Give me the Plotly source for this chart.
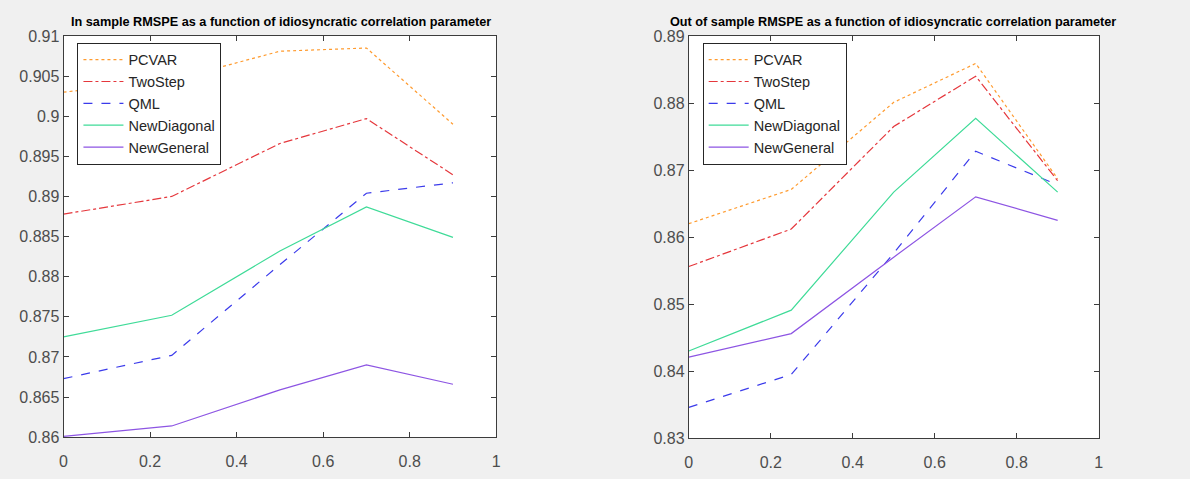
import plotly.graph_objects as go

# ---- data ----
rho = [0, 0.25, 0.5, 0.7, 0.9]

series_names = ["PCVAR", "TwoStep", "QML", "NewDiagonal", "NewGeneral"]

in_pcvar = [0.9030, 0.9045, 0.9081, 0.9085, 0.8990]
in_twostep = [0.8878, 0.8900, 0.8966, 0.8997, 0.8927]
in_qml = [0.8673, 0.8702, 0.8815, 0.8904, 0.8917]
in_newdiag = [0.8725, 0.8752, 0.8832, 0.8887, 0.8849]
in_newgen = [0.8601, 0.8614, 0.8659, 0.8690, 0.8666]

out_pcvar = [0.8620, 0.8671, 0.8801, 0.8859, 0.8687]
out_twostep = [0.8556, 0.8612, 0.8765, 0.8840, 0.8684]
out_qml = [0.8346, 0.8395, 0.8576, 0.8728, 0.8678]
out_newdiag = [0.8430, 0.8491, 0.8667, 0.8777, 0.8667]
out_newgen = [0.8421, 0.8456, 0.8570, 0.8660, 0.8625]

x_ticks = [0, 0.2, 0.4, 0.6, 0.8, 1]
x_ticktext = ["0", "0.2", "0.4", "0.6", "0.8", "1"]
left_yticks = [0.86, 0.865, 0.87, 0.875, 0.88, 0.885, 0.89, 0.895, 0.9, 0.905, 0.91]
left_yticktext = ["0.86", "0.865", "0.87", "0.875", "0.88", "0.885", "0.89", "0.895", "0.9", "0.905", "0.91"]
right_yticks = [0.83, 0.84, 0.85, 0.86, 0.87, 0.88, 0.89]
right_yticktext = ["0.83", "0.84", "0.85", "0.86", "0.87", "0.88", "0.89"]

titles = ["In sample RMSPE as a function of idiosyncratic correlation parameter",
          "Out of sample RMSPE as a function of idiosyncratic correlation parameter"]

# ---- styles ----
colors = ["#FF9B2F", "#E5373C", "#3B3BEB", "#3FDB98", "#8D55E3"]
dashes = ["dot", "dashdot", "dash", "solid", "solid"]

fig = go.Figure()

left_data = [in_pcvar, in_twostep, in_qml, in_newdiag, in_newgen]
right_data = [out_pcvar, out_twostep, out_qml, out_newdiag, out_newgen]

for name, ys, c, d in zip(series_names, left_data, colors, dashes):
    fig.add_trace(go.Scatter(x=rho, y=ys, mode="lines", name=name,
                             line=dict(color=c, dash=d, width=1.2),
                             xaxis="x", yaxis="y", legend="legend"))
for name, ys, c, d in zip(series_names, right_data, colors, dashes):
    fig.add_trace(go.Scatter(x=rho, y=ys, mode="lines", name=name,
                             line=dict(color=c, dash=d, width=1.2),
                             xaxis="x2", yaxis="y2", legend="legend2"))

W, H = 1190, 479
axis_col = "#3c3c3c"
tick_font = dict(family="Liberation Sans, Arial, sans-serif", size=16, color="#4d4d4d")

def px_x(p):
    return p / W

def px_y(p):
    return 1 - p / H

common_axis = dict(showline=True, linecolor=axis_col, linewidth=1, mirror="ticks",
                   ticks="inside", ticklen=5, tickcolor=axis_col, showgrid=False,
                   zeroline=False, tickfont=tick_font)

legend_common = dict(bgcolor="white", bordercolor="#262626", borderwidth=1,
                     font=dict(family="Liberation Sans, Arial, sans-serif", size=14.5, color="#262626"),
                     xanchor="left", yanchor="top", itemwidth=40, tracegroupgap=0)

fig.update_layout(
    width=W, height=H,
    margin=dict(l=0, r=0, t=0, b=0),
    paper_bgcolor="#f0f0f0",
    plot_bgcolor="white",
    showlegend=True,
    xaxis=dict(domain=[px_x(60), px_x(496)], range=[0, 1], tickvals=x_ticks, ticktext=x_ticktext,
               anchor="y", ticklabelstandoff=10, **common_axis),
    yaxis=dict(domain=[px_y(445), px_y(29)], range=[0.86, 0.91], tickvals=left_yticks,
               ticktext=left_yticktext, anchor="x", **common_axis),
    xaxis2=dict(domain=[px_x(690), px_x(1103)], range=[0, 1], tickvals=x_ticks, ticktext=x_ticktext,
                anchor="y2", ticklabelstandoff=10, **common_axis),
    yaxis2=dict(domain=[px_y(446), px_y(29)], range=[0.83, 0.89], tickvals=right_yticks,
                ticktext=right_yticktext, anchor="x2", **common_axis),
    legend=dict(x=px_x(74), y=px_y(36), **legend_common),
    legend2=dict(x=px_x(704), y=px_y(36), **legend_common),
)

title_font = dict(family="Liberation Sans, Arial, sans-serif", size=12.7, color="black")
fig.add_annotation(text="<b>" + titles[0] + "</b>", x=px_x(279), y=px_y(15), xref="paper", yref="paper",
                   showarrow=False, font=title_font, xanchor="center", yanchor="middle")
fig.add_annotation(text="<b>" + titles[1] + "</b>", x=px_x(896), y=px_y(15), xref="paper", yref="paper",
                   showarrow=False, font=title_font, xanchor="center", yanchor="middle")

fig.write_html("out.html", config={"displayModeBar": False},
               post_script="document.body.style.margin='0';document.body.style.overflow='hidden';")
